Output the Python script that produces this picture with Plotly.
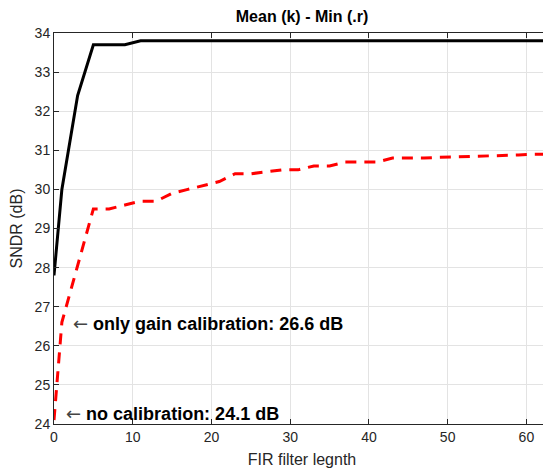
import plotly.graph_objects as go

mean_x = [0, 1, 3, 5, 9, 11, 63]
mean_y = [27.8, 30.0, 32.4, 33.7, 33.7, 33.8, 33.8]

min_x = [0, 1, 5, 7, 9, 11, 13, 15, 17, 19, 21, 23, 25, 27, 29, 31, 33, 35, 37,
         39, 41, 43, 45, 47, 49, 51, 53, 55, 57, 59, 61, 63]
min_y = [24.1, 26.6, 29.5, 29.5, 29.6, 29.7, 29.7, 29.9, 30.0, 30.1, 30.2, 30.4,
         30.4, 30.45, 30.5, 30.5, 30.6, 30.6, 30.7, 30.7, 30.7, 30.8, 30.8, 30.8,
         30.82, 30.83, 30.85, 30.86, 30.87, 30.88, 30.9, 30.9]

x_ticks = [0, 10, 20, 30, 40, 50, 60]
y_ticks = [24, 25, 26, 27, 28, 29, 30, 31, 32, 33, 34]

W, H = 543, 464  # page body has an 8px margin inside the 551x472 window

fig = go.Figure()
fig.add_trace(go.Scatter(x=mean_x, y=mean_y, mode="lines",
                         line=dict(color="black", width=3), showlegend=False))
fig.add_trace(go.Scatter(x=min_x, y=min_y, mode="lines",
                         line=dict(color="#ff0000", width=3, dash="11px,8px"),
                         showlegend=False))

font = "Liberation Sans, Arial, sans-serif"
arrow = "<span style='font-family:DejaVu Sans;font-weight:normal;color:#444'>\u2190</span>"
fig.add_annotation(x=2.2, y=26.58, xanchor="left", yanchor="middle", showarrow=False,
                   text=arrow + " <b>only gain calibration: 26.6 dB</b>",
                   font=dict(family=font, size=18, color="black"))
fig.add_annotation(x=1.3, y=24.28, xanchor="left", yanchor="middle", showarrow=False,
                   text=arrow + " <b>no calibration: 24.1 dB</b>",
                   font=dict(family=font, size=18, color="black"))

axis_common = dict(showline=True, linecolor="#262626", linewidth=1, mirror="ticks",
                   ticks="inside", ticklen=5, tickcolor="#262626",
                   showgrid=True, gridcolor="#e3e3e3", gridwidth=1, zeroline=False,
                   tickfont=dict(family=font, size=14, color="#262626"))

fig.update_xaxes(range=[0, 63], tickvals=x_ticks,
                 title=dict(text="FIR filter legnth", font=dict(family=font, size=16, color="#262626"), standoff=10),
                 **axis_common)
fig.update_yaxes(range=[24, 34], tickvals=y_ticks,
                 title=dict(text="SNDR (dB)", font=dict(family=font, size=16, color="#262626"), standoff=9),
                 **axis_common)

fig.update_layout(
    width=W, height=H,
    margin=dict(l=46, r=1, t=25, b=48),
    paper_bgcolor="white", plot_bgcolor="white",
    title=dict(text="<b>Mean (k) - Min (.r)</b>", x=(302 - 8) / W, xanchor="center",
               y=1 - 8 / H, yanchor="middle",
               font=dict(family=font, size=16, color="black")),
)

fig.write_html("out.html")
